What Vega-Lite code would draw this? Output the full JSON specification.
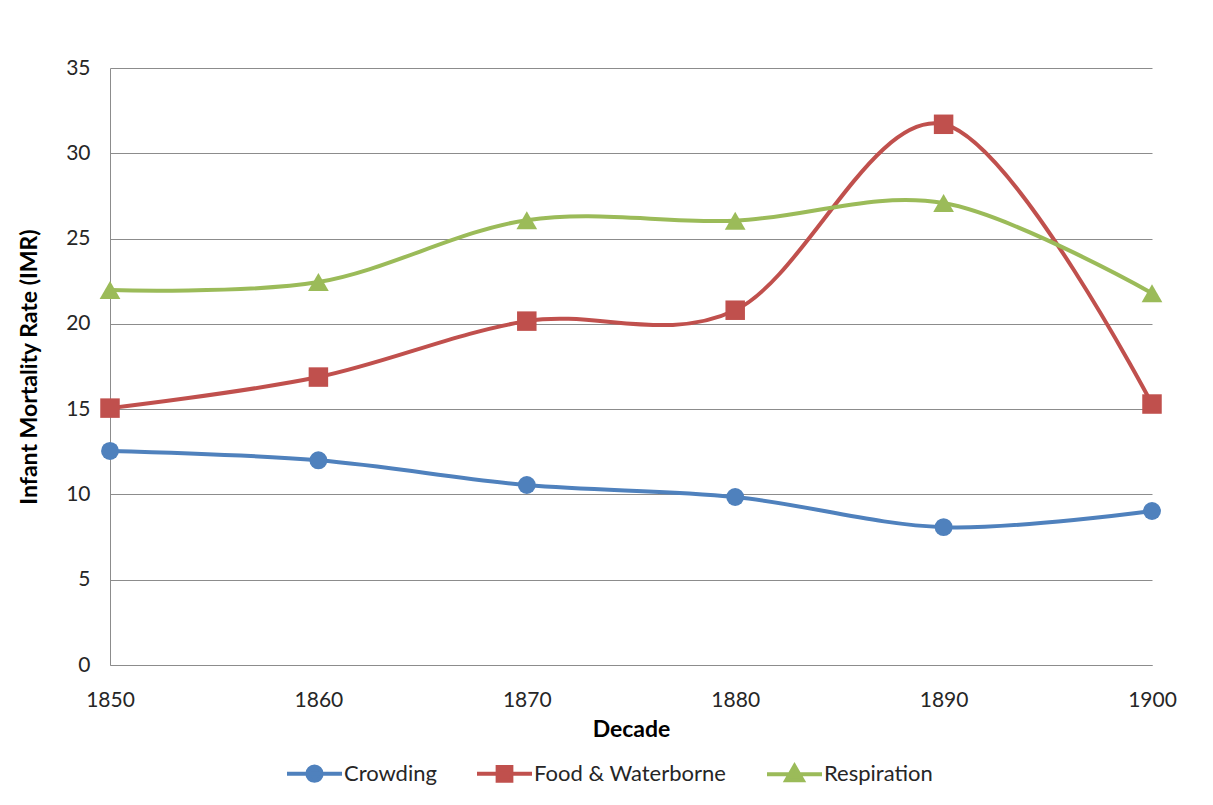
{
  "$schema": "https://vega.github.io/schema/vega-lite/v6.json",
  "autosize": "none",
  "width": 1042,
  "height": 597,
  "padding": {"left": 110, "top": 68, "right": 61, "bottom": 140},
  "background": "white",
  "data": {
    "values": [
      {"decade": 1850, "series": "Crowding", "imr": 12.55},
      {"decade": 1860, "series": "Crowding", "imr": 12.0},
      {"decade": 1870, "series": "Crowding", "imr": 10.55},
      {"decade": 1880, "series": "Crowding", "imr": 9.85},
      {"decade": 1890, "series": "Crowding", "imr": 8.08},
      {"decade": 1900, "series": "Crowding", "imr": 9.03},
      {"decade": 1850, "series": "Food & Waterborne", "imr": 15.06},
      {"decade": 1860, "series": "Food & Waterborne", "imr": 16.88},
      {"decade": 1870, "series": "Food & Waterborne", "imr": 20.16},
      {"decade": 1880, "series": "Food & Waterborne", "imr": 20.8},
      {"decade": 1890, "series": "Food & Waterborne", "imr": 31.7},
      {"decade": 1900, "series": "Food & Waterborne", "imr": 15.3},
      {"decade": 1850, "series": "Respiration", "imr": 21.98},
      {"decade": 1860, "series": "Respiration", "imr": 22.45},
      {"decade": 1870, "series": "Respiration", "imr": 26.08},
      {"decade": 1880, "series": "Respiration", "imr": 26.05},
      {"decade": 1890, "series": "Respiration", "imr": 27.08},
      {"decade": 1900, "series": "Respiration", "imr": 21.8}
    ]
  },
  "encoding": {
    "x": {
      "field": "decade", "type": "quantitative",
      "scale": {"domain": [1850, 1900], "nice": false, "zero": false},
      "axis": {
        "title": "Decade", "values": [1850, 1860, 1870, 1880, 1890, 1900], "format": "d",
        "grid": false, "ticks": false, "labelPadding": 24, "titlePadding": 8,
        "domainColor": "#8c8c8c", "labelFlush": false, "titleFontSize": 23
      }
    },
    "y": {
      "field": "imr", "type": "quantitative",
      "scale": {"domain": [0, 35], "nice": false},
      "axis": {
        "title": "Infant Mortality Rate (IMR)", "values": [0, 5, 10, 15, 20, 25, 30, 35],
        "grid": true, "ticks": false, "labelPadding": 20, "titlePadding": 24,
        "gridColor": "#8c8c8c", "domainColor": "#8c8c8c", "titleFontSize": 23
      }
    },
    "color": {
      "field": "series", "type": "nominal",
      "scale": {"domain": ["Crowding", "Food & Waterborne", "Respiration"], "range": ["#4F81BD", "#C0504D", "#9BBB59"]},
      "legend": {
        "title": null, "orient": "none", "direction": "horizontal",
        "legendX": 175, "legendY": 676,
        "columnPadding": 32, "labelOffset": 0, "symbolSize": 3025, "symbolStrokeWidth": 4,
        "labelFontSize": 22, "labelColor": "#262626", "labelFont": "Lato", "labelLimit": 400,
        "encode": {
          "symbols": {
            "update": {
              "stroke": {"signal": "scale('color', datum.value)"},
              "fill": {"signal": "scale('color', datum.value)"},
              "strokeWidth": {"value": 4},
              "opacity": {"value": 1}
            }
          }
        }
      }
    }
  },
  "layer": [
    {
      "mark": {"type": "line", "interpolate": "cardinal", "strokeWidth": 4},
      "encoding": {}
    },
    {
      "transform": [{"filter": "datum.series === 'Crowding'"}],
      "mark": {"type": "point", "shape": "circle", "filled": true, "opacity": 1, "size": 320},
      "encoding": {}
    },
    {
      "transform": [{"filter": "datum.series === 'Food & Waterborne'"}],
      "mark": {"type": "point", "shape": "square", "filled": true, "opacity": 1, "size": 380},
      "encoding": {}
    },
    {
      "transform": [{"filter": "datum.series === 'Respiration'"}],
      "mark": {"type": "point", "shape": "triangle-up", "filled": true, "opacity": 1, "size": 430},
      "encoding": {}
    },
    {
      "transform": [{"filter": "datum.imr < 0"}],
      "mark": {"type": "point", "filled": true, "opacity": 1, "strokeWidth": 4},
      "encoding": {
        "shape": {
          "field": "series", "type": "nominal",
          "scale": {
            "domain": ["Crowding", "Food & Waterborne", "Respiration"],
            "range": [
              "M-1,0H1M-0.26,0A0.26,0.26 0 1,0 0.26,0A0.26,0.26 0 1,0 -0.26,0Z",
              "M-1,0H1M-0.25,-0.25H0.25V0.25H-0.25Z",
              "M-1,0H1M0,-0.3L0.3,0.22L-0.3,0.22Z"
            ]
          }
        }
      }
    }
  ],
  "config": {
    "view": {"stroke": null},
    "font": "Lato",
    "axis": {
      "labelFont": "Lato", "labelFontSize": 21, "labelColor": "#262626",
      "titleFont": "Lato", "titleFontSize": 21, "titleFontWeight": "bold", "titleColor": "#000000"
    }
  }
}
